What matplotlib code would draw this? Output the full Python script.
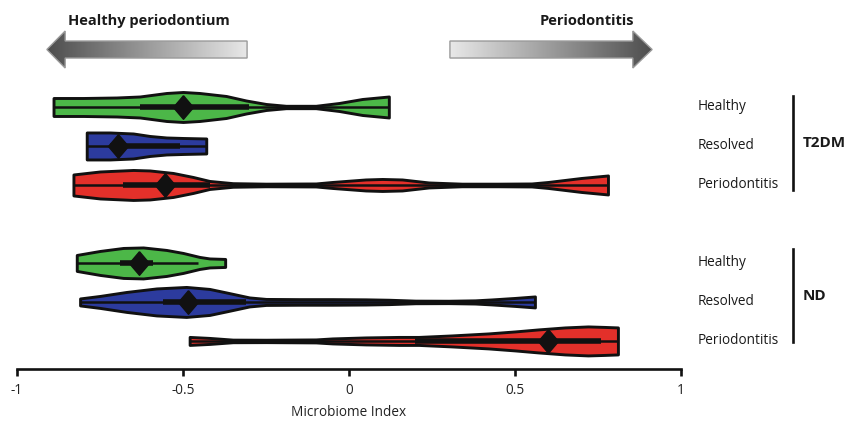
"""Violin plot of microbiome index by periodontal status, T2DM vs ND."""

import numpy as np
import matplotlib
matplotlib.use("Agg")
import matplotlib.pyplot as plt
from matplotlib.patches import Polygon

plt.rcParams["font.family"] = ["Open Sans", "DejaVu Sans"]

# ---- data ----
groups = ["T2DM", "ND"]
statuses = ["Healthy", "Resolved", "Periodontitis"]
colors = ["#4cb748", "#2c3b9e", "#e3302a"]

# density profiles: x positions and relative half-widths
t2dm_healthy_x = [-0.89, -0.8, -0.7, -0.63, -0.55, -0.5, -0.45, -0.37, -0.31, -0.25,
                  -0.19, -0.1, -0.03, 0.04, 0.12]
t2dm_healthy_w = [9, 9, 9.5, 10.5, 14, 15, 14, 11, 6.5, 3, 1.2, 1.2, 4, 8, 10.5]
t2dm_resolved_x = [-0.79, -0.72, -0.65, -0.6, -0.55, -0.5, -0.43]
t2dm_resolved_w = [13.5, 13.5, 12.5, 10, 8.5, 8, 7.5]
t2dm_perio_x = [-0.83, -0.75, -0.65, -0.6, -0.53, -0.47, -0.42, -0.35, -0.25, -0.1,
                -0.05, 0.05, 0.1, 0.16, 0.24, 0.34, 0.45, 0.55, 0.6, 0.65, 0.7, 0.78]
t2dm_perio_w = [10.5, 13.5, 15, 14.5, 12, 8, 4, 1.8, 1.3, 1.5, 3, 5.5, 6, 5.5, 2.5,
                1.3, 1.3, 1.5, 3, 5, 7, 9.5]
nd_healthy_x = [-0.82, -0.75, -0.68, -0.62, -0.55, -0.5, -0.45, -0.42, -0.373]
nd_healthy_w = [8, 12, 15, 15.5, 13, 10, 6, 4.5, 4]
nd_resolved_x = [-0.81, -0.75, -0.67, -0.58, -0.49, -0.42, -0.37, -0.3, -0.25, -0.15,
                 -0.05, 0.05, 0.12, 0.2, 0.3, 0.38, 0.43, 0.5, 0.56]
nd_resolved_w = [3.5, 6, 10, 13.5, 15, 13, 9.5, 4.5, 3, 2.8, 2.8, 2.6, 2.2, 1.3, 1.2,
                 1.6, 2.5, 4, 5.5]
nd_perio_x = [-0.48, -0.42, -0.35, -0.25, -0.1, -0.05, 0.05, 0.15, 0.21, 0.31, 0.42,
              0.5, 0.57, 0.65, 0.72, 0.77, 0.81]
nd_perio_w = [4, 3, 1.3, 1.2, 1.5, 2.5, 3.5, 4, 4, 5.5, 7.5, 9.5, 11.5, 13.5, 14.5, 14, 13.5]

profiles_x = [t2dm_healthy_x, t2dm_resolved_x, t2dm_perio_x,
              nd_healthy_x, nd_resolved_x, nd_perio_x]
profiles_w = [t2dm_healthy_w, t2dm_resolved_w, t2dm_perio_w,
              nd_healthy_w, nd_resolved_w, nd_perio_w]
medians = [-0.5, -0.695, -0.554, -0.633, -0.485, 0.6]
q1 = [-0.63, -0.72, -0.68, -0.69, -0.56, 0.2]
q3 = [-0.3, -0.51, -0.42, -0.59, -0.31, 0.76]
whisk_lo = [-0.89, -0.79, -0.83, -0.82, -0.81, -0.48]
whisk_hi = [0.12, -0.43, 0.78, -0.455, 0.56, 0.81]

xticks = [-1, -0.5, 0, 0.5, 1]
xticklabels = ["-1", "-0.5", "0", "0.5", "1"]

# ---- layout ----
W, H = 846, 425
fig = plt.figure(figsize=(W / 100, H / 100), dpi=100)
ax = fig.add_axes([17 / W, 56 / H, 664 / W, 369 / H])
ax.set_xlim(-1, 1)
ax.set_ylim(6.72, -2.744)

pos = [0, 1, 2, 4, 5, 6]
wscale = 1 / 39.0  # half-width units -> row units
diamond = [(0, 1), (0.85, 0), (0, -1), (-0.85, 0), (0, 1)]

for i in range(6):
    x = np.array(profiles_x[i])
    w = np.array(profiles_w[i]) * wscale
    y0 = pos[i]
    c = colors[i % 3]
    ax.fill_between(x, y0 - w, y0 + w, facecolor=c, edgecolor="#111111",
                    linewidth=2.1, joinstyle="round", zorder=2)
    ax.plot([whisk_lo[i], whisk_hi[i]], [y0, y0], color="#111111", lw=1.8,
            solid_capstyle="butt", zorder=3)
    ax.plot([q1[i], q3[i]], [y0, y0], color="#111111", lw=4.0,
            solid_capstyle="butt", zorder=3)
    ax.plot([medians[i]], [y0], marker=diamond, color="#111111", ms=17, zorder=4)

# gradient arrows
grad = np.linspace(0, 1, 256).reshape(1, -1)
def arrow(x_tail, x_base, x_tip, yc, text, text_x):
    body, head = 0.218, 0.474
    verts = [(x_tail, yc - body), (x_base, yc - body), (x_base, yc - head), (x_tip, yc),
             (x_base, yc + head), (x_base, yc + body), (x_tail, yc + body)]
    poly = Polygon(verts, closed=True, facecolor="none", edgecolor="#9a9a9a",
                   lw=1.0, zorder=3, clip_on=False)
    ax.add_patch(poly)
    lo, hi = min(x_tail, x_tip), max(x_tail, x_tip)
    g = grad if x_tip > x_tail else grad[:, ::-1]
    im = ax.imshow(g, cmap="gray_r", vmin=-0.15, vmax=1.5, aspect="auto",
                   extent=[lo, hi, yc + head, yc - head], zorder=2,
                   interpolation="bilinear")
    im.set_clip_path(poly)
    ax.text(text_x, -2.205, text, ha="center", va="center", fontsize=10.5,
            fontweight="bold", color="#1a1a1a")

arrow(-0.307, -0.855, -0.91, -1.474, "Healthy periodontium", -0.602)
arrow(0.304, 0.855, 0.913, -1.474, "Periodontitis", 0.717)
ax.set_xlim(-1, 1)
ax.set_ylim(6.72, -2.744)

# right-hand labels
for i in range(6):
    ax.text(1.051, pos[i], statuses[i % 3], ha="left", va="center", fontsize=9.8,
            color="#1a1a1a", clip_on=False)
for g, (top, bot) in enumerate([(-0.28, 2.13), (3.64, 6.03)]):
    ax.plot([1.337, 1.337], [top, bot], color="#111111", lw=1.9, clip_on=False)
    ax.text(1.367, (top + bot) / 2, groups[g], ha="left", va="center", fontsize=11,
            fontweight="bold", color="#1a1a1a", clip_on=False)

# axis styling
for s in ["top", "right", "left"]:
    ax.spines[s].set_visible(False)
ax.spines["bottom"].set_linewidth(1.9)
ax.spines["bottom"].set_color("#111111")
ax.set_yticks([])
ax.set_xticks(xticks)
ax.set_xticklabels(xticklabels, fontsize=9.8, color="#222222")
ax.tick_params(axis="x", direction="out", length=5, width=1.9, color="#111111", pad=5)
ax.set_xlabel("Microbiome Index", fontsize=9.8, color="#222222", labelpad=5)

fig.savefig("out.png", dpi=100)
